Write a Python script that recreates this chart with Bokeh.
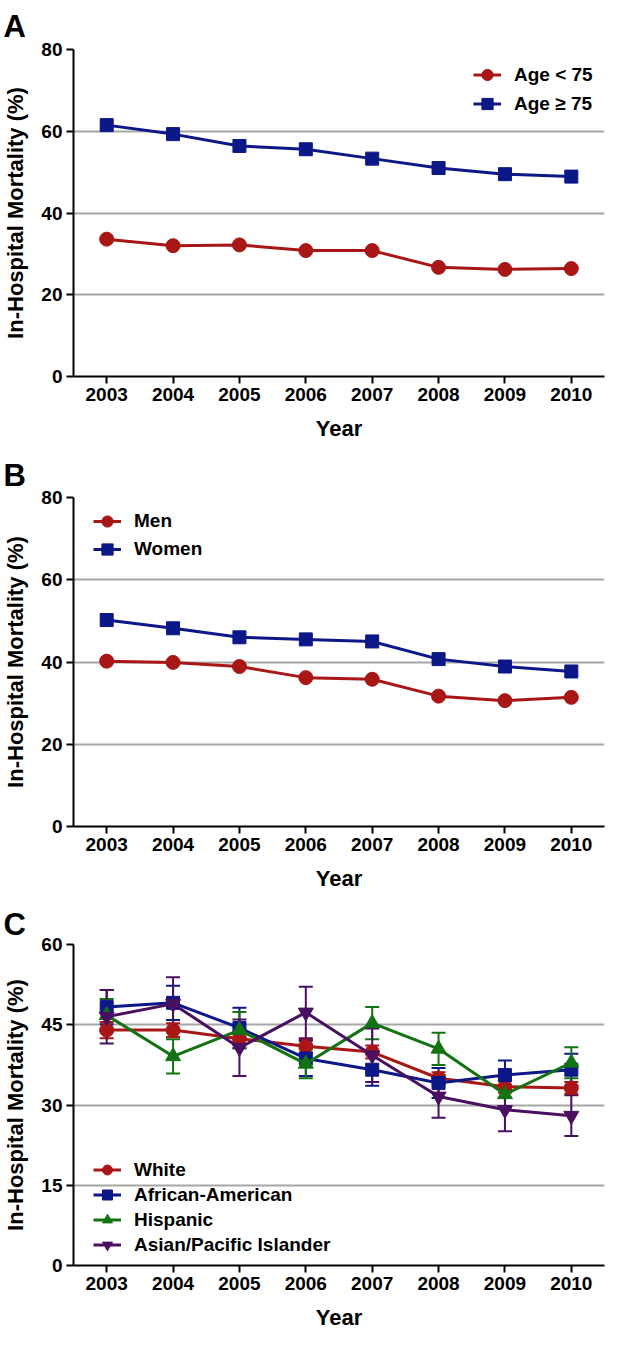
from bokeh.plotting import figure
from bokeh.layouts import column
from bokeh.models import (Range1d, FixedTicker, Legend, LegendItem, Whisker,
                          TeeHead, ColumnDataSource, Title)
from bokeh.embed import file_html
from bokeh.resources import INLINE

years = [2003, 2004, 2005, 2006, 2007, 2008, 2009, 2010]

# Panel A
age_lt75 = [33.6, 32.0, 32.2, 30.8, 30.8, 26.7, 26.2, 26.4]
age_ge75 = [61.5, 59.3, 56.4, 55.6, 53.3, 51.0, 49.5, 48.9]

# Panel B
men = [40.2, 39.9, 38.9, 36.2, 35.8, 31.7, 30.6, 31.4]
women = [50.2, 48.2, 46.0, 45.5, 45.0, 40.7, 38.9, 37.7]

# Panel C (value, +/- error)
white = [44.0, 44.0, 42.4, 41.0, 39.9, 35.0, 33.4, 33.2]
white_err = [1.5, 1.3, 1.2, 1.2, 1.2, 1.1, 1.1, 1.1]
afr_am = [48.3, 49.1, 44.4, 38.7, 36.6, 34.1, 35.6, 36.6]
afr_am_err = [3.2, 3.2, 3.8, 3.3, 3.0, 2.8, 2.7, 3.0]
hispanic = [46.8, 39.1, 44.0, 37.7, 45.3, 40.5, 32.0, 37.9]
hispanic_err = [3.0, 3.2, 3.4, 2.7, 3.0, 3.0, 2.5, 2.9]
asian = [46.5, 48.9, 40.7, 47.3, 39.3, 31.6, 29.1, 28.0]
asian_err = [5.0, 5.0, 5.3, 4.8, 5.0, 4.0, 4.0, 3.8]

ticks_ab = [0, 20, 40, 60, 80]
ticks_c = [0, 15, 30, 45, 60]

RED = "#A81616"
BLUE = "#0C1788"
GREEN = "#137313"
PURPLE = "#4A0F60"

FONT = "Liberation Sans"
FRAME_H = 328


def make_fig(letter, ymax, yticks, height, top, bottom, title_standoff):
    p = figure(width=606, height=height, output_backend="svg", toolbar_location=None,
               x_range=Range1d(2002.5, 2010.5), y_range=Range1d(0, ymax),
               min_border_left=70, min_border_right=2, min_border_top=top,
               min_border_bottom=bottom, tools="")
    p.title = Title(text=letter, text_font=FONT, text_font_size="31px",
                    text_font_style="bold", align="left", offset=-70,
                    standoff=title_standoff, text_color="black")
    p.outline_line_color = None
    p.xgrid.grid_line_color = None
    p.ygrid.grid_line_color = "#a6a6a6"
    p.ygrid.grid_line_width = 2
    p.xaxis.ticker = FixedTicker(ticks=years)
    p.yaxis.ticker = FixedTicker(ticks=yticks)
    for ax in (p.xaxis, p.yaxis):
        ax.axis_line_width = 2
        ax.axis_line_color = "black"
        ax.major_tick_line_width = 2
        ax.major_tick_line_color = "black"
        ax.major_tick_out = 7
        ax.major_tick_in = 0
        ax.minor_tick_line_color = None
        ax.major_label_text_font = FONT
        ax.major_label_text_font_size = "19px"
        ax.major_label_text_font_style = "bold"
        ax.major_label_text_color = "black"
        ax.axis_label_text_font = FONT
        ax.axis_label_text_font_size = "22px"
        ax.axis_label_text_font_style = "bold"
        ax.axis_label_text_color = "black"
    p.xaxis.axis_label_standoff = 12
    p.yaxis.axis_label_standoff = 10
    p.xaxis.major_label_standoff = 4
    p.yaxis.major_label_standoff = 4
    p.xaxis.axis_label = "Year"
    p.yaxis.axis_label = "In-Hospital Mortality (%)"
    return p


def series(p, ys, color, marker, size):
    ln = p.line(years, ys, line_color=color, line_width=3)
    sc = p.scatter(years, ys, marker=marker, size=size, fill_color=color,
                   line_color=color)
    return [ln, sc]


def add_legend(p, items, x, y, gh):
    leg = Legend(items=[LegendItem(label=l, renderers=r) for l, r in items],
                 location=(x, y), border_line_color=None,
                 background_fill_alpha=0, padding=0, margin=0, spacing=0,
                 glyph_width=28, glyph_height=gh, label_standoff=13,
                 label_text_font=FONT, label_text_font_size="19px",
                 label_text_font_style="bold", label_text_color="black")
    p.add_layout(leg, "center")


# Panel A
pa = make_fig("A", 80, ticks_ab, 450, 40, 74, 12)
ra = series(pa, age_lt75, RED, "circle", 14)
rb = series(pa, age_ge75, BLUE, "square", 13)
add_legend(pa, [("Age < 75", ra), ("Age \u2265 75", rb)], 400, FRAME_H - 12 - 58, 29)

# Panel B
pb = make_fig("B", 80, ticks_ab, 451, 40, 75, 10)
rm = series(pb, men, RED, "circle", 14)
rw = series(pb, women, BLUE, "square", 13)
add_legend(pb, [("Men", rm), ("Women", rw)], 20, FRAME_H - 9 - 56, 28)

# Panel C
pc = make_fig("C", 60, ticks_c, 431, 33, 62, 6)
groups = [
    ("White", white, white_err, RED, "circle", 14),
    ("African-American", afr_am, afr_am_err, BLUE, "square", 13),
    ("Hispanic", hispanic, hispanic_err, GREEN, "triangle", 15),
    ("Asian/Pacific Islander", asian, asian_err, PURPLE, "inverted_triangle", 15),
]
items_c = []
for name, vals, errs, color, marker, size in groups:
    src = ColumnDataSource(dict(x=years,
                                lo=[v - e for v, e in zip(vals, errs)],
                                hi=[v + e for v, e in zip(vals, errs)]))
    w = Whisker(source=src, base="x", lower="lo", upper="hi",
                line_color=color, line_width=2,
                upper_head=TeeHead(size=14, line_color=color, line_width=2),
                lower_head=TeeHead(size=14, line_color=color, line_width=2))
    pc.add_layout(w)
    r = series(pc, vals, color, marker, size)
    items_c.append((name, r))
add_legend(pc, items_c, 20, 8, 25)

layout = column(pa, pb, pc, spacing=0)
open("out.html", "w").write(file_html(layout, INLINE))
